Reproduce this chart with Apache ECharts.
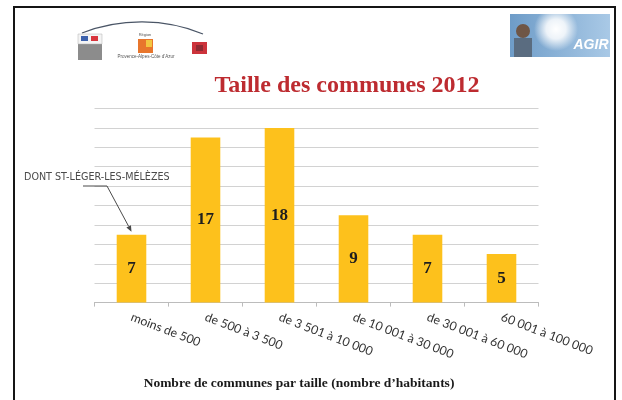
<!DOCTYPE html>
<html>
<head>
<meta charset="utf-8">
<script src="https://cdn.jsdelivr.net/npm/echarts@6/dist/echarts.min.js"></script>
<style>
html,body{margin:0;padding:0;background:#fff;}
#chart{width:622px;height:400px;}
</style>
</head>
<body>
<div id="chart"></div>
<script>
const titleText = 'Taille des communes 2012';
const axisTitle = 'Nombre de communes par taille (nombre d\u2019habitants)';
const categories = ['moins de 500', 'de 500 \u00e0 3 500', 'de 3 501 \u00e0 10 000', 'de 10 001 \u00e0 30 000', 'de 30 001 \u00e0 60 000', '60 001 \u00e0 100 000'];
const values = [7, 17, 18, 9, 7, 5];
const noteText = 'DONT ST-L\u00c9GER-LES-M\u00c9L\u00c8ZES';
const noteIndex = 0;

const chart = echarts.init(document.getElementById('chart'), null, {renderer: 'canvas'});

const decor = [
  // slide frame
  {type:'rect', shape:{x:14, y:7, width:601, height:400}, style:{fill:'none', stroke:'#151515', lineWidth:2}, z:10},
  // left logos
  {type:'bezierCurve', shape:{x1:82, y1:33, cpx1:120, cpy1:18, cpx2:165, cpy2:18, x2:203, y2:34}, style:{stroke:'#4a5566', lineWidth:1.2, fill:'none'}},
  {type:'rect', shape:{x:78, y:34, width:24, height:26}, style:{fill:'#8c8c8c'}},
  {type:'rect', shape:{x:78, y:34, width:24, height:10}, style:{fill:'#f4f4f4', stroke:'#b0b0b0', lineWidth:0.5}},
  {type:'rect', shape:{x:81, y:36, width:7, height:5}, style:{fill:'#3d62ad'}},
  {type:'rect', shape:{x:91, y:36, width:7, height:5}, style:{fill:'#d8343c'}},
  {type:'text', style:{x:145, y:35, text:'R\u00e9gion', fontSize:4, fill:'#555', align:'center', verticalAlign:'middle'}},
  {type:'rect', shape:{x:138, y:39, width:15, height:14}, style:{fill:'#e8762c'}},
  {type:'rect', shape:{x:146, y:40, width:6, height:7}, style:{fill:'#f3c640'}},
  {type:'text', style:{x:146, y:57, text:'Provence-Alpes-C\u00f4te d\u2019Azur', fontSize:4.5, fill:'#555', align:'center', verticalAlign:'middle'}},
  {type:'rect', shape:{x:192, y:42, width:15, height:12}, style:{fill:'#cc333b'}},
  {type:'rect', shape:{x:196, y:45, width:7, height:6}, style:{fill:'#8e2a32'}},
  // right image
  {type:'rect', shape:{x:510, y:14, width:100, height:43}, style:{fill:new echarts.graphic.LinearGradient(0,0,1,0,[{offset:0,color:'#6e9cc8'},{offset:1,color:'#a9c9e6'}])}},
  {type:'circle', shape:{cx:556, cy:29, r:22}, style:{fill:new echarts.graphic.RadialGradient(0.5,0.5,0.5,[{offset:0,color:'rgba(255,255,255,1)'},{offset:0.45,color:'rgba(255,255,255,0.85)'},{offset:1,color:'rgba(255,255,255,0)'}])}},
  {type:'circle', shape:{cx:523, cy:31, r:7}, style:{fill:'#6f5646'}},
  {type:'rect', shape:{x:514, y:38, width:18, height:19}, style:{fill:'#5a6c80'}},
  {type:'text', style:{x:591, y:45, text:'AGIR', fontSize:14, fontWeight:'bold', fontStyle:'italic', fontFamily:'Liberation Sans', fill:'#ffffff', align:'center', verticalAlign:'middle'}},
  // titles
  {type:'text', style:{x:347, y:86, text:titleText, fontFamily:'Liberation Serif', fontWeight:'bold', fontSize:24, fill:'#bd2b30', align:'center', verticalAlign:'middle'}},
  {type:'text', style:{x:299, y:384, text:axisTitle, fontFamily:'Liberation Serif', fontWeight:'bold', fontSize:13.5, fill:'#1a1a1a', align:'center', verticalAlign:'middle'}},
  // handwritten note
  {type:'text', style:{x:24, y:177, text:noteText, fontFamily:'DejaVu Sans', fontSize:9.6, fill:'#4a4a4a', align:'left', verticalAlign:'middle'}}
];

chart.setOption({
  animation: false,
  backgroundColor: '#ffffff',
  grid: {left: 94.5, right: 83.5, top: 108.5, bottom: 97.4, containLabel: false},
  xAxis: {
    type: 'category',
    data: categories,
    axisLine: {lineStyle: {color: '#bcbcbc', width: 1}},
    axisTick: {show: true, length: 4, lineStyle: {color: '#bcbcbc'}},
    axisLabel: {interval: 0, rotate: -21, margin: 14, fontFamily: 'Lato', fontSize: 12.3, color: '#333'}
  },
  yAxis: {
    type: 'value', min: 0, max: 20, interval: 2,
    axisLabel: {show: false}, axisLine: {show: false}, axisTick: {show: false},
    splitLine: {lineStyle: {color: '#d2d2d2', width: 1}}
  },
  series: [{
    type: 'bar',
    data: values,
    barWidth: '40%',
    itemStyle: {color: '#fdc11c'},
    label: {show: true, position: 'inside', fontFamily: 'Liberation Serif', fontWeight: 'bold', fontSize: 17, color: '#1e1e1e'}
  }],
  graphic: decor
});

// arrow from note to the first bar top
const tip = chart.convertToPixel({seriesIndex: 0}, [noteIndex, values[noteIndex]]);
const tx = tip[0], ty = tip[1] - 3;
const sx = 107, sy = 186;
const ang = Math.atan2(ty - sy, tx - sx);
const hl = 6, hw = 2.6;
const bx = tx - hl * Math.cos(ang), by = ty - hl * Math.sin(ang);
const px = -Math.sin(ang) * hw, py = Math.cos(ang) * hw;
chart.setOption({
  graphic: decor.concat([
    {type:'polyline', shape:{points:[[83,186],[sx,sy],[bx,by]]}, style:{stroke:'#4a4a4a', lineWidth:1, fill:'none'}},
    {type:'polygon', shape:{points:[[tx,ty],[bx+px,by+py],[bx-px,by-py]]}, style:{fill:'#4a4a4a'}}
  ])
}, {replaceMerge: ['graphic']});
</script>
</body>
</html>
